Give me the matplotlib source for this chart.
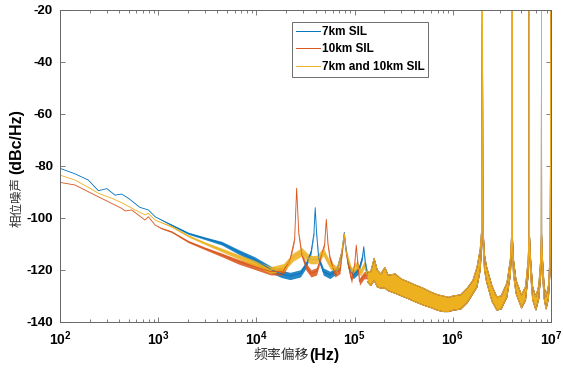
import numpy as np
import matplotlib
matplotlib.use('Agg')
import matplotlib.pyplot as plt
from matplotlib.lines import Line2D

plt.rcParams['font.family'] = ['Liberation Sans', 'Noto Sans CJK SC']
plt.rcParams['mathtext.fontset'] = 'custom'
plt.rcParams['mathtext.rm'] = 'Liberation Sans:bold'
plt.rcParams['mathtext.bf'] = 'Liberation Sans:bold'
plt.rcParams['axes.unicode_minus'] = False

# 7km SIL: offset frequency (Hz), level (dBc/Hz), noise half-width (dB)
f7 = [100, 142, 194, 246, 300, 363, 425, 497, 580, 650,
      794, 930, 1170, 1370, 2030, 2990, 4440, 6550, 9600, 14000,
      18000, 22000, 28000, 32000, 36000, 38500, 39700, 41000, 43000, 48000,
      56000, 66000, 74000, 77000, 78600, 80500, 86000, 97000, 110000, 120000,
      124000, 128000, 135000]
v7 = [-80.9, -83.0, -85.4, -89.5, -88.7, -91.2, -90.8, -92.4, -94.4, -95.9,
      -96.9, -99.5, -101.4, -102.7, -105.9, -107.8, -109.7, -113.0, -116.0, -119.8,
      -121.5, -122.3, -121.3, -118.0, -113.0, -106.0, -96.0, -106.0, -115.5, -120.6,
      -121.9, -120.0, -113.0, -108.0, -105.5, -110.0, -118.0, -122.0, -120.0, -115.0,
      -111.0, -117.0, -122.0]
w7 = [0, 0, 0, 0, 0, 0, 0, 0, 0, 0,
      0, 0, 0.2, 0.3, 0.4, 0.5, 0.7, 0.9, 1.1, 1.3,
      1.4, 1.4, 1.4, 1.3, 1.0, 0.6, 0, 0.6, 1.0, 1.4,
      1.4, 1.4, 1.0, 0.6, 0, 0.6, 1.2, 1.4, 1.4, 1.0,
      0, 1.0, 1.4]

# 10km SIL
f10 = [100, 142, 194, 287, 425, 460, 537, 734, 794, 930,
       1080, 1370, 2030, 2990, 4440, 6550, 9600, 14000, 18700, 22000,
       24500, 25700, 27000, 29000, 32000, 36000, 41000, 44000, 49500, 51500,
       53500, 56000, 63000, 71000, 76500, 78600, 81000, 87000, 93000, 100000,
       104000, 108000, 112000, 125000, 135000]
v10 = [-86.3, -87.3, -89.9, -93.1, -96.3, -97.3, -96.9, -100.8, -99.5, -102.7,
       -104.0, -105.3, -109.1, -111.7, -114.2, -116.8, -118.7, -120.6, -120.5, -116.0,
       -108.0, -88.5, -106.0, -114.2, -118.7, -121.3, -120.5, -116.8, -110.0, -100.5,
       -110.0, -115.5, -121.3, -120.0, -110.0, -106.0, -112.0, -119.0, -123.8, -118.0,
       -110.4, -118.0, -124.5, -122.0, -122.0]
w10 = [0, 0, 0, 0, 0, 0, 0, 0, 0, 0,
       0.2, 0.3, 0.4, 0.5, 0.7, 0.9, 1.1, 1.3, 1.4, 1.0,
       0.6, 0, 0.6, 1.0, 1.4, 1.4, 1.4, 1.0, 0.6, 0,
       0.6, 1.0, 1.4, 1.4, 0.6, 0, 0.6, 1.2, 1.4, 1.0,
       0, 1.0, 1.4, 1.4, 1.4]

# 7km and 10km SIL
f710 = [100, 142, 194, 246, 336, 425, 580, 734, 794, 930,
        1370, 2030, 2990, 4440, 6550, 9600, 14000, 18900, 23700, 29000,
        35000, 41000, 48000, 56000, 66000, 74000, 78600, 82000, 93000, 106000,
        115000, 125000, 135000]
v710 = [-83.5, -85.4, -88.2, -90.5, -92.4, -94.1, -96.9, -98.8, -98.2, -100.8,
        -103.3, -106.9, -109.7, -112.3, -114.9, -117.4, -120.0, -119.0, -115.0, -113.0,
        -116.0, -116.0, -113.0, -118.0, -120.0, -113.0, -106.0, -113.0, -120.6, -118.0,
        -121.0, -118.0, -122.0]
w710 = [0, 0, 0, 0, 0, 0, 0, 0, 0, 0,
        0.3, 0.4, 0.5, 0.7, 0.9, 1.1, 1.3, 1.5, 1.6, 1.6,
        1.6, 1.6, 1.6, 1.4, 1.4, 1.0, 0, 1.0, 1.4, 1.4,
        1.4, 1.4, 1.4]

# above ~135 kHz all three traces overlap: ripple band (upper / lower edge)
f_hf = [1.35e5, 1.45e5, 1.58e5, 1.7e5, 1.85e5, 2.03e5, 2.2e5, 2.6e5, 3.0e5, 3.5e5,
        4.0e5, 5.0e5, 6.0e5, 7.0e5, 8.0e5, 9.0e5, 1.0e6, 1.2e6, 1.4e6, 1.6e6,
        1.76e6, 1.9e6, 1.97e6, 2.0e6, 2.03e6, 2.1e6, 2.2e6, 2.5e6, 2.8e6, 3.1e6,
        3.55e6, 3.85e6, 3.97e6, 4.0e6, 4.03e6, 4.15e6, 4.4e6, 5.0e6, 5.5e6, 5.85e6,
        5.97e6, 6.0e6, 6.03e6, 6.2e6, 6.5e6, 7.0e6, 7.5e6, 7.85e6, 7.97e6, 8.0e6,
        8.03e6, 8.2e6, 8.5e6, 8.9e6, 9.4e6, 9.8e6, 1.0e7]
hi_hf = [-120.5, -121.0, -115.5, -120.0, -121.5, -119.0, -122.0, -121.5, -123.5, -124.5,
         -125.5, -127.0, -128.5, -129.5, -130.0, -130.5, -130.0, -129.5, -127.0, -124.0,
         -119.0, -112.0, -104.0, -10.0, -104.0, -114.0, -118.5, -126.0, -130.3, -130.0,
         -125.0, -116.0, -106.0, -10.0, -106.0, -116.0, -123.8, -129.6, -126.4, -116.0,
         -106.0, -10.0, -106.0, -116.0, -126.4, -130.3, -126.0, -116.0, -106.0, -10.0,
         -106.0, -116.0, -126.0, -130.3, -126.0, -114.0, -10.0]
lo_hf = [-124.5, -126.0, -124.0, -126.5, -127.0, -127.0, -128.0, -129.0, -130.0, -131.0,
         -132.0, -133.5, -134.5, -135.5, -136.0, -136.0, -135.5, -135.0, -132.5, -129.0,
         -126.5, -120.0, -110.0, -10.0, -110.0, -120.0, -124.5, -132.0, -135.4, -135.0,
         -130.4, -122.0, -112.0, -10.0, -112.0, -122.0, -129.0, -134.6, -131.5, -122.0,
         -112.0, -10.0, -112.0, -122.0, -131.5, -135.4, -131.0, -122.0, -112.0, -10.0,
         -112.0, -122.0, -131.0, -135.0, -131.0, -120.0, -10.0]

labels = ['7km SIL', '10km SIL', '7km and 10km SIL']
colors = ['#0072BD', '#D95319', '#EDB120']
xtick_exps = [2, 3, 4, 5, 6, 7]
yticks = [-140, -120, -100, -80, -60, -40, -20]

fig = plt.figure(figsize=(5.63, 3.70), dpi=100)
ax = fig.add_axes([60 / 563, 48 / 370, 491 / 563, 312 / 370])

series = [(f7, v7, w7), (f10, v10, w10), (f710, v710, w710)]
for (f, v, w), c in zip(series, colors):
    v = np.array(v)
    w = np.array(w)
    ax.fill_between(f, v - w, v + w, color=c, lw=0, alpha=0.85)
    ax.plot(f, v, color=c, lw=0.6)
    ax.fill_between(f_hf, lo_hf, hi_hf, color=c, lw=0)
    ax.plot(f_hf, lo_hf, color=c, lw=0.6)
    ax.plot(f_hf, hi_hf, color=c, lw=0.6)

ax.set_xscale('log')
ax.set_xlim(1e2, 1e7)
ax.set_ylim(-140, -20)
ax.set_xticks([10.0 ** e for e in xtick_exps])
ax.set_xticklabels([r'$\mathbf{10^{%d}}$' % e for e in xtick_exps])
ax.set_yticks(yticks)
ax.set_yticklabels([str(t) for t in yticks])
ax.tick_params(which='both', direction='in', top=True, right=True, color='#666666', width=0.6)
ax.tick_params(which='major', length=3.5)
ax.tick_params(which='minor', length=2)
ax.tick_params(axis='y', labelsize=9.5, pad=5)
ax.tick_params(axis='x', labelsize=10, pad=5)
for lab in ax.get_yticklabels():
    lab.set_fontweight('bold')
for s in ax.spines.values():
    s.set_color('#666666')
    s.set_linewidth(0.7)

handles = [Line2D([], [], color=c, lw=0.7) for c in colors]
leg = ax.legend(handles, labels, loc='upper left', bbox_to_anchor=(0.4725, 0.9615),
                borderaxespad=0, fancybox=False, framealpha=1, edgecolor='#555555',
                prop={'weight': 'bold', 'size': 8.5}, handlelength=2.0,
                handletextpad=0.15, labelspacing=0.45, borderpad=0.35)
leg.get_frame().set_linewidth(0.6)

# axis labels: CJK part in a light face, ASCII part bold
fig.text(0.4988, 0.0405, '频率偏移', family='Noto Sans CJK SC', fontsize=10,
         color='#333333', ha='center', va='center')
fig.text(0.5755, 0.0405, '(Hz)', fontweight='bold', fontsize=11.5,
         ha='center', va='center')
fig.text(0.0297, 0.454, '相位噪声', family='Noto Sans CJK SC', fontsize=9,
         color='#333333', rotation=90, ha='center', va='center')
fig.text(0.0297, 0.617, '(dBc/Hz)', fontweight='bold', fontsize=11.5,
         rotation=90, ha='center', va='center')

fig.savefig('out.png', dpi=100)
